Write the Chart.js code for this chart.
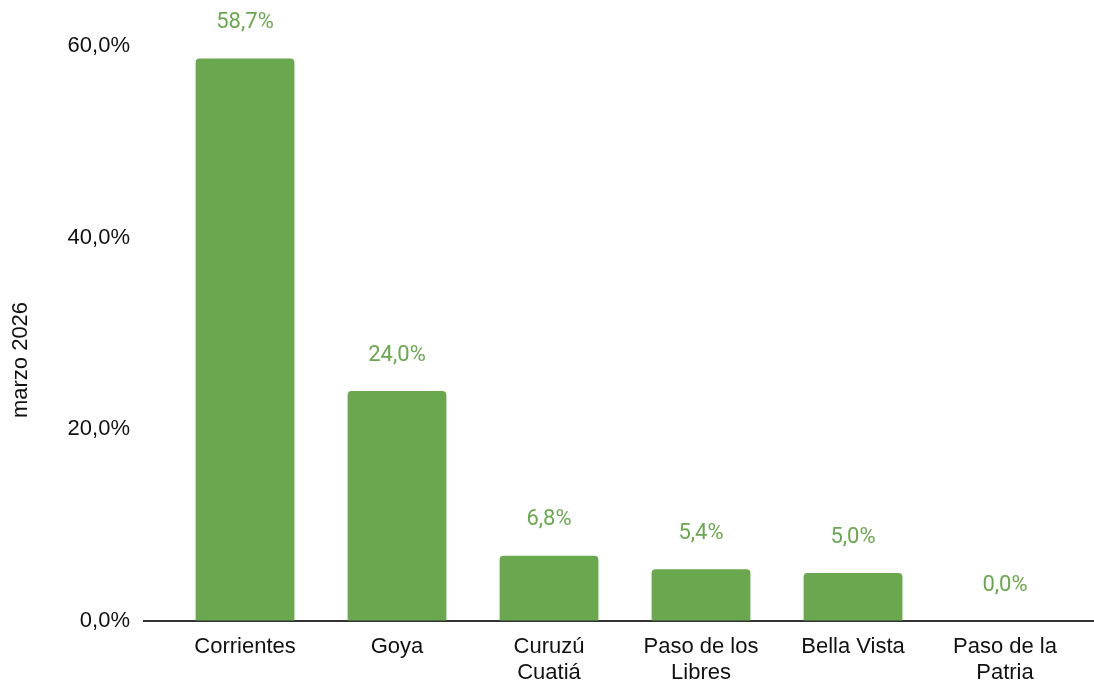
<!DOCTYPE html>
<html>
<head>
<meta charset="utf-8">
<script src="https://cdn.jsdelivr.net/npm/chart.js@4.4.1/dist/chart.umd.min.js"></script>
<style>
  html, body { margin: 0; padding: 0; background: #ffffff; }
  #wrap { width: 1094px; height: 684px; }
</style>
</head>
<body>
<div id="wrap"><canvas id="c" width="1094" height="684"></canvas></div>
<script>
const categories = [
  ["Corrientes"],
  ["Goya"],
  ["Curuzú", "Cuatiá"],
  ["Paso de los", "Libres"],
  ["Bella Vista"],
  ["Paso de la", "Patria"]
];
const values = [58.7, 24.0, 6.8, 5.4, 5.0, 0.0];
const yTicks = [0, 20, 40, 60];
const axisTitle = "marzo 2026";

const GREEN = "#6aa84f";
const TEXT = "#111111";
const fmt = v => v.toFixed(1).replace(".", ",") + "%";

const extras = {
  id: "extras",
  beforeDatasetsDraw(chart) {
    const ctx = chart.ctx;
    const y0 = chart.scales.y.getPixelForValue(0);
    ctx.save();
    ctx.strokeStyle = "#333333";
    ctx.lineWidth = 2;
    ctx.beginPath();
    ctx.moveTo(143, y0);
    ctx.lineTo(1094, y0);
    ctx.stroke();
    ctx.restore();
  },
  afterDatasetsDraw(chart) {
    const ctx = chart.ctx;
    const meta = chart.getDatasetMeta(0);
    ctx.save();
    ctx.fillStyle = GREEN;
    ctx.font = "22px Roboto";
    ctx.textAlign = "center";
    ctx.textBaseline = "middle";
    meta.data.forEach((bar, i) => {
      ctx.fillText(fmt(values[i]), bar.x, bar.y - 36);
    });
    ctx.restore();
    ctx.save();
    ctx.fillStyle = TEXT;
    ctx.font = "22px 'Liberation Sans', Arial";
    ctx.textAlign = "center";
    ctx.textBaseline = "middle";
    ctx.translate(21, 360);
    ctx.rotate(-Math.PI / 2);
    ctx.fillText(axisTitle, 0, 0);
    ctx.restore();
  }
};

new Chart(document.getElementById("c"), {
  type: "bar",
  data: {
    labels: categories,
    datasets: [{
      data: values,
      backgroundColor: GREEN,
      borderRadius: { topLeft: 4, topRight: 4, bottomLeft: 0, bottomRight: 0 },
      borderSkipped: "bottom",
      barPercentage: 0.65,
      categoryPercentage: 1.0
    }]
  },
  options: {
    responsive: false,
    animation: false,
    devicePixelRatio: 1,
    layout: { padding: { top: 46, right: 13, left: 0, bottom: 0 } },
    plugins: { legend: { display: false }, tooltip: { enabled: false } },
    scales: {
      x: {
        grid: { display: false, drawTicks: false },
        border: { display: false },
        ticks: {
          color: TEXT,
          font: { family: "'Liberation Sans', Arial", size: 22, lineHeight: 1.18 },
          padding: 13,
          maxRotation: 0,
          autoSkip: false
        },
        afterFit(scale) { scale.height = 63; }
      },
      y: {
        min: 0,
        max: 60,
        grid: { display: true, drawOnChartArea: false, drawTicks: true, tickLength: 39, color: "rgba(0,0,0,0)" },
        border: { display: false },
        afterBuildTicks(scale) { scale.ticks = yTicks.map(v => ({ value: v })); },
        ticks: {
          color: TEXT,
          font: { family: "'Liberation Sans', Arial", size: 22 },
          padding: 0,
          callback: v => fmt(v)
        },
        afterFit(scale) { scale.width = 169; }
      }
    }
  },
  plugins: [extras]
});
</script>
</body>
</html>
